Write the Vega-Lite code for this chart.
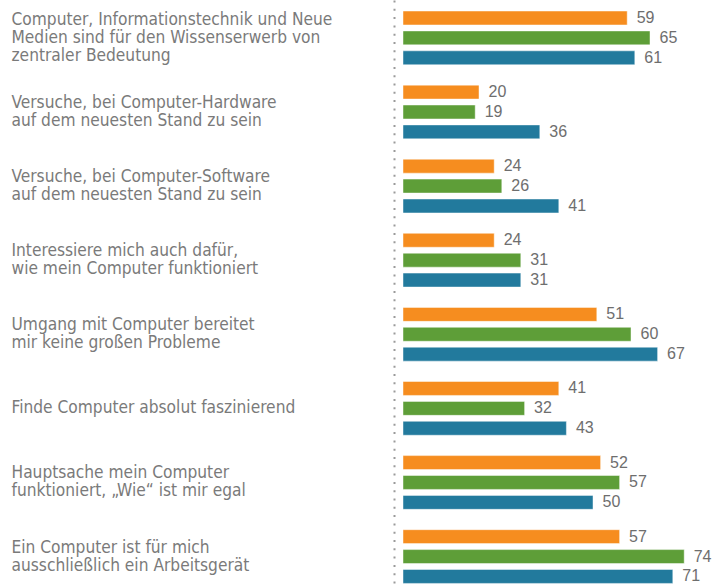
{
  "$schema": "https://vega.github.io/schema/vega-lite/v6.json",
  "autosize": {"type": "none"},
  "padding": {"left": 394, "top": 0, "right": 0, "bottom": 0},
  "width": 323,
  "height": 586,
  "background": "#ffffff",
  "config": {"view": {"stroke": null}},
  "data": {
    "values": [
      {"item": "Computer, Informationstechnik und Neue|Medien sind für den Wissenserwerb von|zentraler Bedeutung", "series": "Reihe 1", "value": 59},
      {"item": "Computer, Informationstechnik und Neue|Medien sind für den Wissenserwerb von|zentraler Bedeutung", "series": "Reihe 2", "value": 65},
      {"item": "Computer, Informationstechnik und Neue|Medien sind für den Wissenserwerb von|zentraler Bedeutung", "series": "Reihe 3", "value": 61},
      {"item": "Versuche, bei Computer-Hardware|auf dem neuesten Stand zu sein", "series": "Reihe 1", "value": 20},
      {"item": "Versuche, bei Computer-Hardware|auf dem neuesten Stand zu sein", "series": "Reihe 2", "value": 19},
      {"item": "Versuche, bei Computer-Hardware|auf dem neuesten Stand zu sein", "series": "Reihe 3", "value": 36},
      {"item": "Versuche, bei Computer-Software|auf dem neuesten Stand zu sein", "series": "Reihe 1", "value": 24},
      {"item": "Versuche, bei Computer-Software|auf dem neuesten Stand zu sein", "series": "Reihe 2", "value": 26},
      {"item": "Versuche, bei Computer-Software|auf dem neuesten Stand zu sein", "series": "Reihe 3", "value": 41},
      {"item": "Interessiere mich auch dafür,|wie mein Computer funktioniert", "series": "Reihe 1", "value": 24},
      {"item": "Interessiere mich auch dafür,|wie mein Computer funktioniert", "series": "Reihe 2", "value": 31},
      {"item": "Interessiere mich auch dafür,|wie mein Computer funktioniert", "series": "Reihe 3", "value": 31},
      {"item": "Umgang mit Computer bereitet|mir keine großen Probleme", "series": "Reihe 1", "value": 51},
      {"item": "Umgang mit Computer bereitet|mir keine großen Probleme", "series": "Reihe 2", "value": 60},
      {"item": "Umgang mit Computer bereitet|mir keine großen Probleme", "series": "Reihe 3", "value": 67},
      {"item": "Finde Computer absolut faszinierend", "series": "Reihe 1", "value": 41},
      {"item": "Finde Computer absolut faszinierend", "series": "Reihe 2", "value": 32},
      {"item": "Finde Computer absolut faszinierend", "series": "Reihe 3", "value": 43},
      {"item": "Hauptsache mein Computer|funktioniert, „Wie“ ist mir egal", "series": "Reihe 1", "value": 52},
      {"item": "Hauptsache mein Computer|funktioniert, „Wie“ ist mir egal", "series": "Reihe 2", "value": 57},
      {"item": "Hauptsache mein Computer|funktioniert, „Wie“ ist mir egal", "series": "Reihe 3", "value": 50},
      {"item": "Ein Computer ist für mich|ausschließlich ein Arbeitsgerät", "series": "Reihe 1", "value": 57},
      {"item": "Ein Computer ist für mich|ausschließlich ein Arbeitsgerät", "series": "Reihe 2", "value": 74},
      {"item": "Ein Computer ist für mich|ausschließlich ein Arbeitsgerät", "series": "Reihe 3", "value": 71}
    ]
  },
  "encoding": {
    "y": {
      "field": "item",
      "type": "nominal",
      "sort": null,
      "scale": {"paddingInner": 0.275, "paddingOuter": 0.092, "align": 0.81},
      "axis": {
        "title": null,
        "ticks": false,
        "tickSize": 0,
        "labelPadding": 383,
        "labelAlign": "left",
        "labelBaseline": "middle",
        "labelExpr": "split(datum.label, '|')",
        "labelOffset": {
          "condition": [
            {"test": "length(split(datum.value, '|')) == 3", "value": -18},
            {"test": "length(split(datum.value, '|')) == 2", "value": -9}
          ],
          "value": 0
        },
        "labelFont": "DejaVu Sans Condensed, Roboto, sans-serif",
        "labelFontSize": 17.2,
        "labelLineHeight": 18,
        "labelColor": "#7a7a7a",
        "labelLimit": 0,
        "domainColor": "#9a9a9a",
        "domainWidth": 2,
        "domainDash": [2, 6.3]
      }
    },
    "yOffset": {
      "field": "series",
      "type": "nominal",
      "scale": {"paddingInner": 0.3, "paddingOuter": 0}
    },
    "x": {
      "field": "value",
      "type": "quantitative",
      "scale": {"domain": [-2.37, 82.63], "nice": false, "zero": false},
      "axis": null
    }
  },
  "layer": [
    {
      "mark": {"type": "bar", "stroke": "#ffffff", "strokeOpacity": 0.45, "strokeWidth": 1},
      "encoding": {
        "x2": {"datum": 0},
        "color": {
          "field": "series",
          "type": "nominal",
          "scale": {"domain": ["Reihe 1", "Reihe 2", "Reihe 3"], "range": ["#f68d1f", "#5e9e38", "#227a9d"]},
          "legend": null
        }
      }
    },
    {
      "mark": {"type": "text", "align": "left", "baseline": "middle", "dx": 9.5, "dy": 0, "font": "Liberation Sans", "fontSize": 16, "color": "#6e6e6e"},
      "encoding": {
        "text": {"field": "value", "type": "quantitative"}
      }
    }
  ]
}
